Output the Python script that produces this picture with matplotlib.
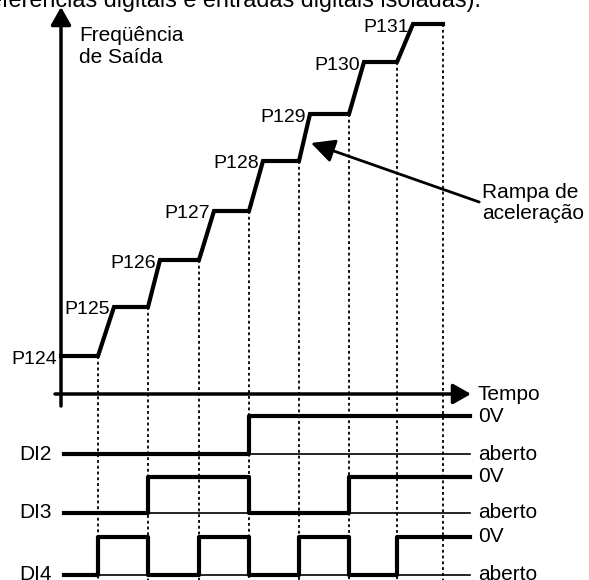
import matplotlib
matplotlib.use("Agg")
import matplotlib.pyplot as plt

plt.rcParams['font.family'] = ['Liberation Sans', 'DejaVu Sans']

# speed references selected by DI2/DI3/DI4 (binary code)
ref_labels = ["P124", "P125", "P126", "P127", "P128", "P129", "P130", "P131"]
ref_levels = [38, 87, 134, 183, 233, 280, 332, 370]

# time instants where the digital inputs change, and end of each ramp
switch_times = [37, 87, 138, 188, 238, 288, 336]
ramp_ends = [53, 99, 153, 202, 249, 303, 352]
t_start = 0
t_stop = 382

# digital input states for each interval (0 = aberto, 1 = 0V)
di_names = ["DI2", "DI3", "DI4"]
di2_states = [0, 0, 0, 0, 1, 1, 1, 1]
di3_states = [0, 0, 1, 1, 0, 0, 1, 1]
di4_states = [0, 1, 0, 1, 0, 1, 0, 1]
di_low = [-60, -119, -181]
di_high = [-22, -83, -143]

fig = plt.figure(figsize=(5.89, 5.80), dpi=100)
ax = fig.add_axes([0, 0, 1, 1])
ax.set_xlim(-61, 528)
ax.set_ylim(-186, 394)
ax.axis("off")

fs = 15

# header line cut by the page
ax.text(420, 387, "referências digitais e entradas digitais isoladas).",
        fontsize=16.8, ha="right", va="baseline")

# axes with arrows
ax.annotate("", xy=(0, 387), xytext=(0, -12),
            arrowprops=dict(arrowstyle="-|>,head_length=0.6,head_width=0.34",
                            lw=2.5, color="k", mutation_scale=18,
                            shrinkA=0, shrinkB=0))
ax.annotate("", xy=(410, 0), xytext=(-6, 0),
            arrowprops=dict(arrowstyle="-|>,head_length=0.6,head_width=0.34",
                            lw=2.5, color="k", mutation_scale=18,
                            shrinkA=0, shrinkB=0))
ax.text(18, 368, "Freqüência\nde Saída", fontsize=fs, ha="left", va="top",
        linespacing=1.2)
ax.text(417, 0, "Tempo", fontsize=fs, ha="left", va="center")

# output frequency: plateaus joined by acceleration ramps
fx = [t_start]
fy = [ref_levels[0]]
for i, (ts, te) in enumerate(zip(switch_times, ramp_ends)):
    fx += [ts, te]
    fy += [ref_levels[i], ref_levels[i + 1]]
fx.append(t_stop)
fy.append(ref_levels[-1])
ax.plot(fx, fy, color="k", lw=3, solid_joinstyle="miter")

# reference labels next to each plateau
ax.text(-4, ref_levels[0] - 3, ref_labels[0], fontsize=14, ha="right", va="center")
for te, lab, lev in zip(ramp_ends, ref_labels[1:], ref_levels[1:]):
    ax.text(te - 4, lev - 3, lab, fontsize=14, ha="right", va="center")

# dotted guides from each transition down through the input signals
for ts, lev in zip(switch_times + [t_stop], ref_levels):
    ax.plot([ts, ts], [lev, -200], color="k", lw=1.3, ls=(0, (1.6, 1.6)))

# digital input waveforms
x_sig = [3] + switch_times + [409]
for name, states, lo, hi in zip(di_names, [di2_states, di3_states, di4_states],
                                di_low, di_high):
    ax.plot([3, 409], [lo, lo], color="k", lw=1.2)
    ys = [hi if s else lo for s in states]
    ax.step(x_sig, ys + [ys[-1]], where="post", color="k", lw=3)
    ax.text(-9, lo, name, fontsize=fs, ha="right", va="center")
    ax.text(417, hi, "0V", fontsize=fs, ha="left", va="center")
    ax.text(417, lo, "aberto", fontsize=fs, ha="left", va="center")

# note pointing to the ramp
ax.annotate("Rampa de\naceleração", xy=(250, 251), xytext=(421, 191),
            fontsize=fs, ha="left", va="center", linespacing=1.1,
            arrowprops=dict(arrowstyle="-|>,head_length=0.8,head_width=0.4",
                            lw=2, color="k", mutation_scale=18,
                            shrinkA=0, shrinkB=0, relpos=(0, 0.5)))

fig.savefig("out.png", dpi=100)
